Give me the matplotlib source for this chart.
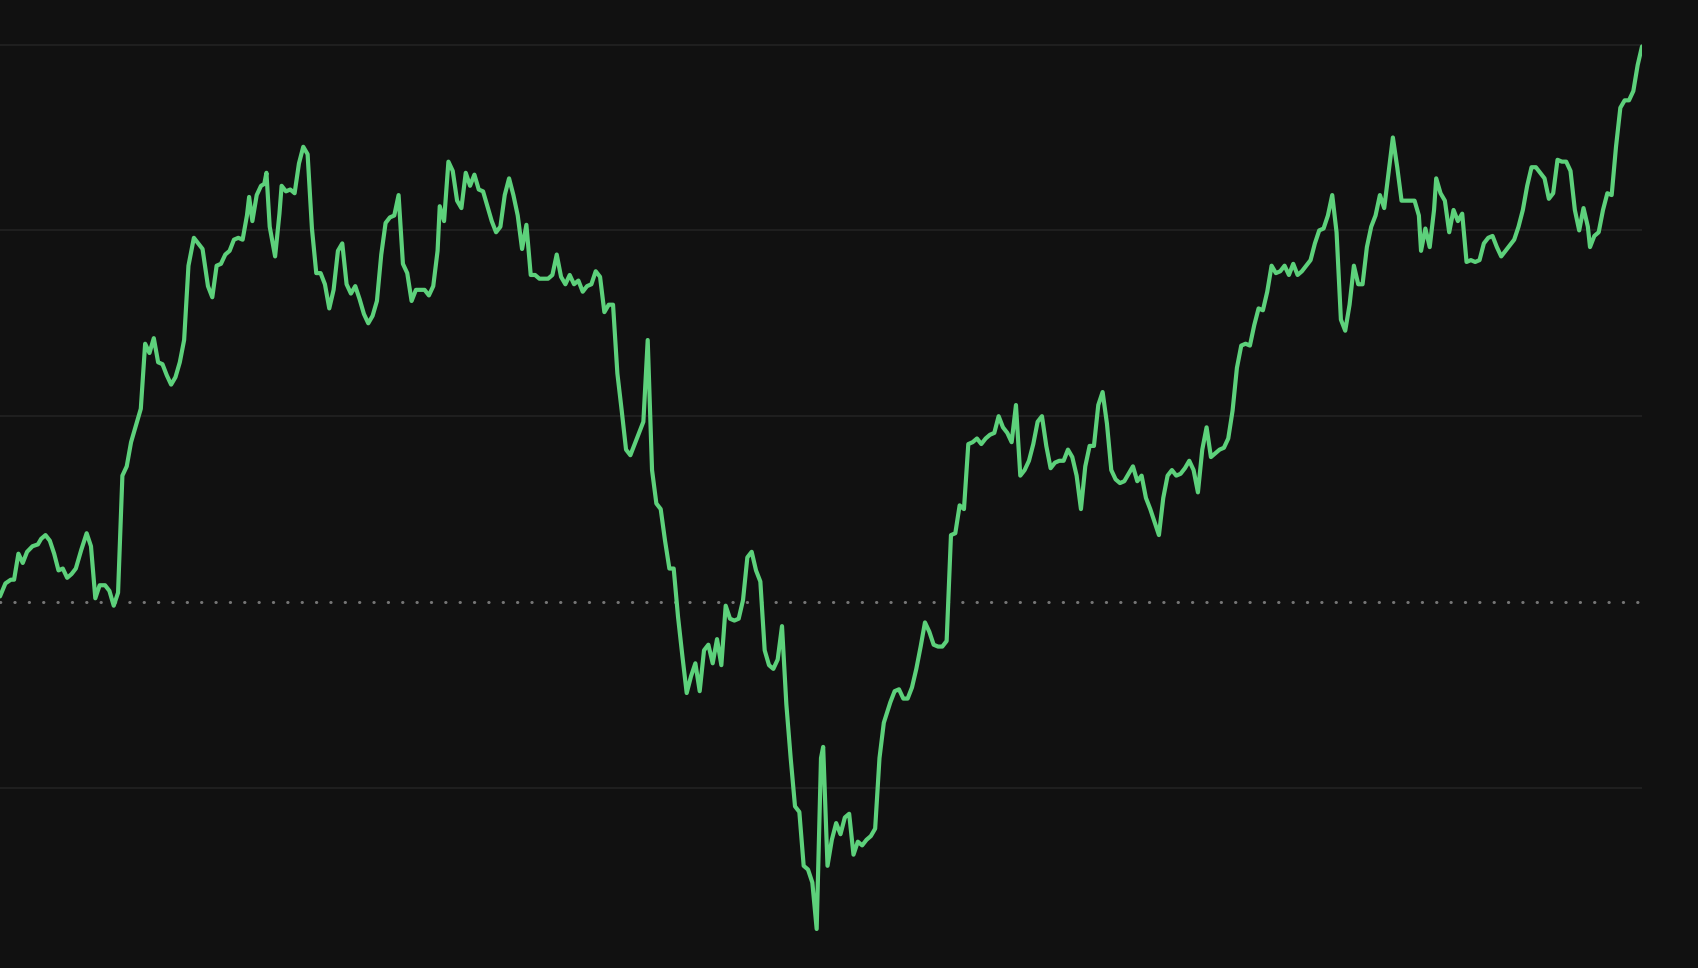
import matplotlib
matplotlib.use("Agg")
import matplotlib.pyplot as plt
import matplotlib.ticker as ticker

# session index and cumulative return, %
t = [0, 5, 10, 13, 17, 21, 25, 30, 35, 38, 42, 46, 50, 54, 58, 62, 66, 70, 75, 80,
     84, 88, 92, 97, 101, 105, 109, 113, 117, 121, 126, 130, 134, 138, 142, 146, 150, 154, 158, 162,
     166, 170, 174, 179, 183, 187, 192, 196, 200, 204, 208, 212, 216, 220, 224, 228, 230, 233, 237, 241,
     244, 246, 249, 254, 258, 260, 264, 268, 272, 276, 280, 284, 288, 292, 296, 300, 304, 308, 312, 316,
     320, 324, 328, 332, 336, 340, 344, 348, 352, 356, 360, 364, 368, 372, 376, 380, 384, 388, 392, 396,
     400, 404, 406, 410, 414, 418, 422, 426, 430, 434, 438, 442, 446, 450, 454, 458, 462, 466, 470, 474,
     478, 482, 486, 490, 494, 498, 502, 506, 510, 514, 518, 522, 526, 530, 534, 538, 542, 546, 550, 554,
     558, 562, 566, 570, 574, 578, 582, 586, 590, 594, 598, 602, 606, 610, 614, 618, 622, 626, 630, 634,
     638, 642, 646, 650, 654, 658, 662, 666, 670, 674, 678, 682, 686, 690, 694, 698, 702, 706, 710, 714,
     718, 722, 726, 730, 734, 738, 742, 746, 750, 754, 758, 760, 764, 768, 772, 776, 780, 784, 788, 792,
     796, 800, 804, 808, 812, 816, 822, 826, 830, 834, 838, 842, 846, 850, 854, 858, 862, 866, 870, 874,
     878, 882, 886, 890, 894, 898, 902, 906, 910, 914, 918, 922, 926, 930, 934, 938, 942, 946, 950, 954,
     958, 962, 966, 970, 974, 978, 982, 986, 990, 994, 998, 1002, 1006, 1010, 1014, 1018, 1022, 1026, 1030, 1034,
     1038, 1042, 1046, 1050, 1054, 1058, 1062, 1066, 1070, 1074, 1078, 1082, 1086, 1090, 1094, 1098, 1102, 1106, 1110, 1114,
     1118, 1122, 1126, 1130, 1134, 1138, 1142, 1146, 1150, 1154, 1158, 1162, 1166, 1170, 1174, 1178, 1182, 1186, 1190, 1194,
     1198, 1202, 1206, 1210, 1214, 1218, 1222, 1226, 1230, 1234, 1238, 1242, 1246, 1250, 1254, 1258, 1262, 1266, 1270, 1274,
     1278, 1282, 1286, 1290, 1294, 1298, 1302, 1306, 1310, 1312, 1316, 1320, 1324, 1326, 1330, 1334, 1338, 1342, 1346, 1350,
     1354, 1358, 1362, 1366, 1370, 1374, 1378, 1382, 1386, 1390, 1394, 1398, 1402, 1406, 1410, 1414, 1418, 1422, 1426, 1430,
     1434, 1438, 1442, 1446, 1450, 1454, 1458, 1462, 1466, 1468, 1472, 1476, 1480, 1484, 1488, 1492, 1496, 1500, 1504, 1508,
     1512, 1516]

ret = [0.3, 1.0, 1.2, 1.2, 2.6, 2.1, 2.7, 3.0, 3.1, 3.4, 3.6, 3.3, 2.6, 1.7, 1.8, 1.3, 1.5, 1.8, 2.8, 3.7,
       3.0, 0.2, 0.9, 0.9, 0.6, -0.2, 0.5, 6.8, 7.3, 8.6, 9.6, 10.4, 13.9, 13.4, 14.2, 12.9, 12.8, 12.2, 11.7, 12.1,
       12.9, 14.1, 18.1, 19.6, 19.3, 19.0, 17.0, 16.4, 18.1, 18.2, 18.7, 18.9, 19.5, 19.6, 19.5, 20.8, 21.8, 20.5, 21.9, 22.4,
       22.5, 23.1, 20.2, 18.6, 20.9, 22.4, 22.1, 22.2, 22.0, 23.6, 24.5, 24.1, 20.1, 17.7, 17.7, 17.1, 15.8, 16.8, 18.9, 19.3,
       17.1, 16.6, 17.0, 16.3, 15.5, 15.0, 15.4, 16.2, 18.7, 20.4, 20.7, 20.8, 21.9, 18.2, 17.7, 16.2, 16.8, 16.8, 16.8, 16.5,
       17.0, 18.9, 21.3, 20.5, 23.7, 23.2, 21.6, 21.2, 23.1, 22.4, 23.0, 22.2, 22.1, 21.3, 20.5, 19.9, 20.2, 21.9, 22.8, 21.9,
       20.8, 19.0, 20.3, 17.6, 17.6, 17.4, 17.4, 17.4, 17.6, 18.7, 17.5, 17.1, 17.6, 17.1, 17.3, 16.7, 17.0, 17.1, 17.8, 17.5,
       15.6, 16.0, 16.0, 12.3, 10.3, 8.2, 7.9, 8.5, 9.1, 9.7, 14.1, 7.1, 5.3, 5.0, 3.3, 1.8, 1.8, -0.8, -2.9, -4.9,
       -4.0, -3.3, -4.8, -2.6, -2.3, -3.3, -2.0, -3.4, -0.2, -0.9, -1.0, -0.9, 0.1, 2.4, 2.7, 1.7, 1.1, -2.6, -3.4, -3.6,
       -3.1, -1.3, -5.5, -8.4, -11.0, -11.3, -14.2, -14.4, -15.1, -17.6, -8.4, -7.8, -14.2, -12.8, -11.9, -12.5, -11.6, -11.4, -13.6, -12.9,
       -13.1, -12.8, -12.6, -12.2, -8.4, -6.5, -5.4, -4.8, -4.7, -5.2, -5.2, -4.6, -3.6, -2.4, -1.1, -1.6, -2.3, -2.4, -2.4, -2.1,
       3.6, 3.7, 5.2, 5.0, 8.5, 8.6, 8.8, 8.5, 8.8, 9.0, 9.1, 10.0, 9.4, 9.1, 8.6, 10.6, 6.8, 7.1, 7.6, 8.5,
       9.7, 10.0, 8.4, 7.2, 7.5, 7.6, 7.6, 8.2, 7.8, 6.8, 5.0, 7.3, 8.4, 8.4, 10.6, 11.3, 9.6, 7.1, 6.6, 6.4,
       6.5, 6.9, 7.3, 6.5, 6.8, 5.6, 5.0, 4.3, 3.6, 5.6, 6.8, 7.1, 6.8, 6.9, 7.2, 7.6, 7.1, 5.9, 8.2, 9.4,
       7.8, 8.0, 8.2, 8.3, 8.8, 10.3, 12.6, 13.8, 13.9, 13.8, 14.9, 15.8, 15.7, 16.7, 18.1, 17.7, 17.8, 18.1, 17.6, 18.2,
       17.6, 17.8, 18.1, 18.4, 19.3, 20.0, 20.1, 20.8, 21.9, 19.9, 15.2, 14.6, 16.0, 18.1, 17.1, 17.1, 19.1, 20.2, 20.8, 21.9,
       21.2, 23.1, 25.0, 23.4, 21.6, 21.6, 21.6, 21.6, 20.8, 18.9, 20.1, 19.1, 21.1, 22.8, 22.0, 21.6, 19.9, 21.1, 20.5, 20.9,
       18.3, 18.4, 18.3, 18.4, 19.3, 19.6, 19.7, 19.1, 18.6, 18.9, 19.2, 19.5, 20.2, 21.1, 22.4, 23.4, 23.4, 23.1, 22.8, 21.7,
       22.0, 23.8, 23.7, 23.7, 23.2, 21.1, 20.0, 21.2, 20.2, 19.1, 19.7, 19.9, 21.1, 22.0, 21.9, 24.5, 26.6, 27.0, 27.0, 27.5,
       28.9, 29.9]

bg = "#111111"
fig = plt.figure(figsize=(16.98, 9.68), dpi=100, facecolor=bg)
ax = fig.add_axes([0, 0, 1642 / 1698, 1])
ax.set_facecolor(bg)

ax.set_xlim(0, 1516)
ax.set_ylim(-19.7, 32.4)

ax.yaxis.set_major_locator(ticker.FixedLocator([-10, 10, 20, 30]))
ax.grid(axis='y', color='#232323', linewidth=1.2)
ax.axhline(0, color='#767676', linewidth=2.2, linestyle=(0, (0.1, 4.6)),
           dash_capstyle='round', zorder=2)

ax.plot(t, ret, color='#5dd17b', linewidth=3.0, solid_joinstyle='round',
        solid_capstyle='round', zorder=3)

for s in ax.spines.values():
    s.set_visible(False)
ax.tick_params(left=False, bottom=False, labelleft=False, labelbottom=False)

plt.savefig("out.png", dpi=100, facecolor=bg)
